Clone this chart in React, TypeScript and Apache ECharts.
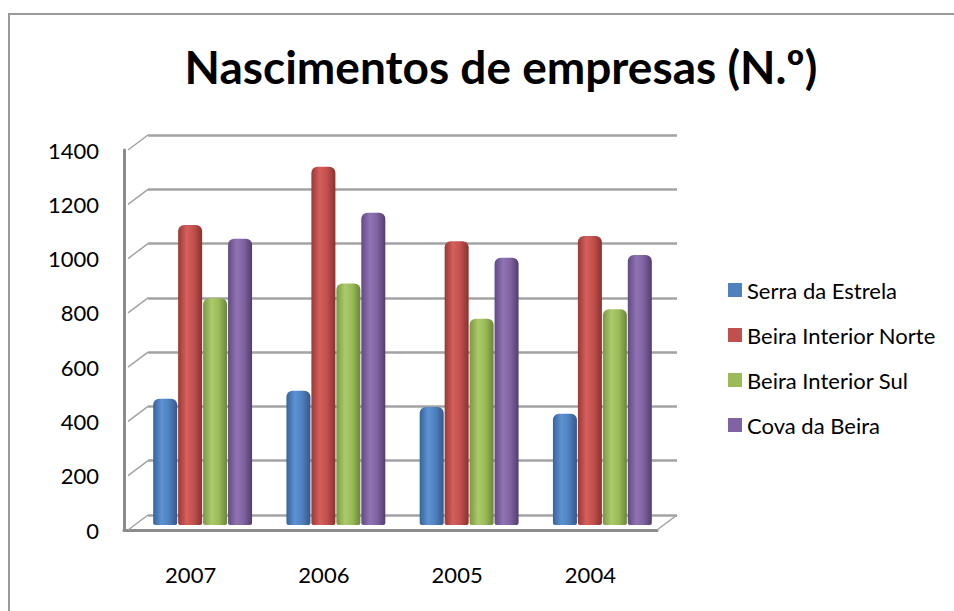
import React, { useEffect, useRef } from "react";
import * as echarts from "echarts";

const categories = ["2007", "2006", "2005", "2004"];
const seriesNames = ["Serra da Estrela", "Beira Interior Norte", "Beira Interior Sul", "Cova da Beira"];
const serraDaEstrela = [465, 495, 435, 410];
const beiraInteriorNorte = [1105, 1320, 1045, 1065];
const beiraInteriorSul = [835, 890, 760, 795];
const covaDaBeira = [1055, 1150, 985, 995];
const yMin = 0;
const yMax = 1400;
const yStep = 200;

const baseColors = ["#4F81BD", "#C0504D", "#9BBB59", "#8064A2"];
const gradStops = [
  ["#37639a", "#5d92d3", "#4f81bd", "#33598a"],
  ["#983936", "#d65f5b", "#c0504d", "#8a3230"],
  ["#7a9843", "#acca6a", "#9bbb59", "#6b8638"],
  ["#624a83", "#8f73b3", "#8064a2", "#533d6c"],
];

const FONT = "Lato, 'Open Sans', sans-serif";

export default function App() {
  const ref = useRef<HTMLDivElement>(null);
  useEffect(() => {
    const el = ref.current!;
    const chart = echarts.init(el, null, { renderer: "svg" });
    const seriesData = [serraDaEstrela, beiraInteriorNorte, beiraInteriorSul, covaDaBeira];
    const option: any = {
      animation: false,
      backgroundColor: "#ffffff",
      title: {
        text: "Nascimentos de empresas (N.º)",
        left: 496,
        textAlign: "center",
        top: 38,
        textStyle: { fontFamily: FONT, fontWeight: "bold", fontSize: 46, color: "#000" },
      },
      legend: {
        orient: "vertical",
        left: 723,
        top: 274,
        itemWidth: 14,
        itemHeight: 14,
        itemGap: 23,
        icon: "rect",
        data: seriesNames.map((n, i) => ({ name: n, itemStyle: { color: baseColors[i] } })),
        textStyle: { fontFamily: FONT, fontSize: 22, color: "#000", lineHeight: 22 },
      },
      grid: [
        { left: 136, width: 533, top: 145, height: 380 },
        { left: 148, width: 529, top: 135, height: 380 },
        { left: 124, width: 533, top: 150, height: 380 },
      ],
      xAxis: [
        { gridIndex: 0, type: "category", data: categories, show: false },
        { gridIndex: 1, type: "category", data: categories, show: false },
        {
          gridIndex: 2,
          type: "category",
          data: categories,
          axisLine: { show: true, lineStyle: { color: "#8c8c8c", width: 3 } },
          axisTick: { show: false },
          axisLabel: { margin: 33, fontFamily: FONT, fontSize: 22, color: "#000" },
        },
      ],
      yAxis: [
        { gridIndex: 0, type: "value", min: yMin, max: yMax, interval: yStep, show: false },
        {
          gridIndex: 1,
          type: "value",
          min: yMin,
          max: yMax,
          interval: yStep,
          axisLine: { show: false },
          axisTick: { show: false },
          axisLabel: { show: false },
          splitLine: { show: true, lineStyle: { color: "#a3a3a3", width: 2.5 } },
        },
        {
          gridIndex: 2,
          type: "value",
          min: yMin,
          max: yMax,
          interval: yStep,
          axisLine: { show: true, lineStyle: { color: "#8c8c8c", width: 3 } },
          axisTick: { show: false },
          splitLine: { show: false },
          axisLabel: {
            margin: 25,
            fontFamily: FONT,
            fontSize: 22,
            color: "#000",
            formatter: (v: number) => String(v),
          },
        },
      ],
      series: seriesNames.map((name, i) => ({
        name,
        type: "bar",
        xAxisIndex: 0,
        yAxisIndex: 0,
        data: seriesData[i],
        barWidth: 24,
        barGap: "4%",
        z: 5,
        itemStyle: {
          borderRadius: [6, 6, 2, 2],
          color: new echarts.graphic.LinearGradient(0, 0, 1, 0, [
            { offset: 0, color: gradStops[i][0] },
            { offset: 0.35, color: gradStops[i][1] },
            { offset: 0.65, color: gradStops[i][2] },
            { offset: 1, color: gradStops[i][3] },
          ]),
        },
      })),
    };
    chart.setOption(option);

    // decorative 3D wall edges computed from the axes
    const lines: any[] = [];
    for (let v = yMin; v <= yMax; v += yStep) {
      const front = chart.convertToPixel({ gridIndex: 2 } as any, [0, v]) as number[];
      const back = chart.convertToPixel({ gridIndex: 1 } as any, [0, v]) as number[];
      lines.push({
        type: "line",
        shape: { x1: 128, y1: front[1], x2: 148, y2: back[1] },
        style: { stroke: "#a3a3a3", lineWidth: 1.5 },
        z: 1,
      });
    }
    const frontZero = chart.convertToPixel({ gridIndex: 2 } as any, [0, 0]) as number[];
    const backZero = chart.convertToPixel({ gridIndex: 1 } as any, [0, 0]) as number[];
    lines.push({
      type: "line",
      shape: { x1: 657, y1: frontZero[1], x2: 677, y2: backZero[1] },
      style: { stroke: "#a3a3a3", lineWidth: 1.5 },
      z: 1,
    });
    lines.push({
      type: "rect",
      shape: { x: 9, y: 14, width: 1000, height: 700 },
      style: { fill: "none", stroke: "#9a9a9a", lineWidth: 2 },
      z: 0,
    });
    chart.setOption({ graphic: lines });
    return () => chart.dispose();
  }, []);
  return (
    <div
      ref={ref}
      style={{ position: "fixed", left: 0, top: 0, width: 954, height: 611 }}
    />
  );
}
